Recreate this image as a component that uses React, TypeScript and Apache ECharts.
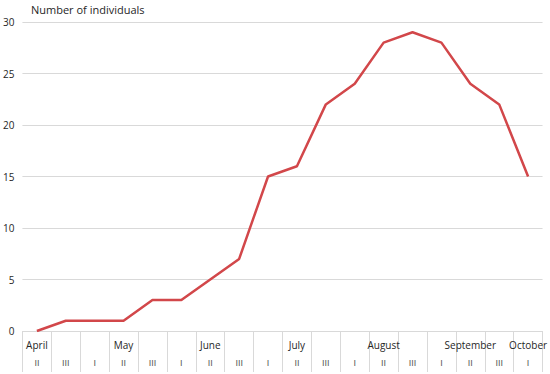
import React, { useEffect, useRef } from "react";
import * as echarts from "echarts";

const decades = ["II", "III", "I", "II", "III", "I", "II", "III", "I", "II", "III", "I", "II", "III", "I", "II", "III", "I"];
const months = ["April", "", "", "May", "", "", "June", "", "", "July", "", "", "August", "", "", "September", "", "October"];
const individuals = [0, 1, 1, 1, 3, 3, 5, 7, 15, 16, 22, 24, 28, 29, 28, 24, 22, 15];
const yTicks = [0, 5, 10, 15, 20, 25, 30];

export default function App() {
  const ref = useRef<HTMLDivElement>(null);
  useEffect(() => {
    if (!ref.current) return;
    const chart = echarts.init(ref.current, null, { renderer: "svg" });
    const font = "'Open Sans', 'Liberation Sans', sans-serif";
    chart.setOption({
      animation: false,
      textStyle: { fontFamily: font },
      grid: { left: 22, right: 5, top: 22, bottom: 43 },
      graphic: [
        {
          type: "text",
          left: 31,
          top: 4,
          style: { text: "Number of individuals", fontSize: 11, fill: "#262626", fontFamily: font },
        },
      ],
      xAxis: {
        type: "category",
        data: decades.map((d, i) => i),
        boundaryGap: true,
        axisLine: { lineStyle: { color: "#D9D9D9", width: 1 } },
        axisTick: { show: true, interval: 0, length: 41, lineStyle: { color: "#D9D9D9" } },
        axisLabel: {
          interval: 0,
          margin: 5,
          formatter: (v: string) => {
            const i = Number(v);
            return `{m|${months[i] || " "}}\n{d|${decades[i]}}`;
          },
          rich: {
            m: { fontSize: 10, lineHeight: 18, color: "#262626", fontFamily: font },
            d: { fontSize: 9, lineHeight: 18, color: "#595959", fontFamily: "'Liberation Sans', sans-serif" },
          },
        },
        splitLine: { show: false },
      },
      yAxis: {
        type: "value",
        min: yTicks[0],
        max: yTicks[yTicks.length - 1],
        interval: 5,
        axisLine: { show: false },
        axisTick: { show: false },
        axisLabel: { fontSize: 10, color: "#262626", margin: 8, fontFamily: font },
        splitLine: { lineStyle: { color: "#D9D9D9", width: 1 } },
      },
      series: [
        {
          type: "line",
          data: individuals,
          showSymbol: false,
          symbol: "none",
          lineStyle: { color: "#D2474A", width: 2.5 },
          itemStyle: { color: "#D2474A" },
        },
      ],
    });
    return () => chart.dispose();
  }, []);
  return <div ref={ref} style={{ width: 550, height: 374, position: "absolute", left: 0, top: 0 }} />;
}
